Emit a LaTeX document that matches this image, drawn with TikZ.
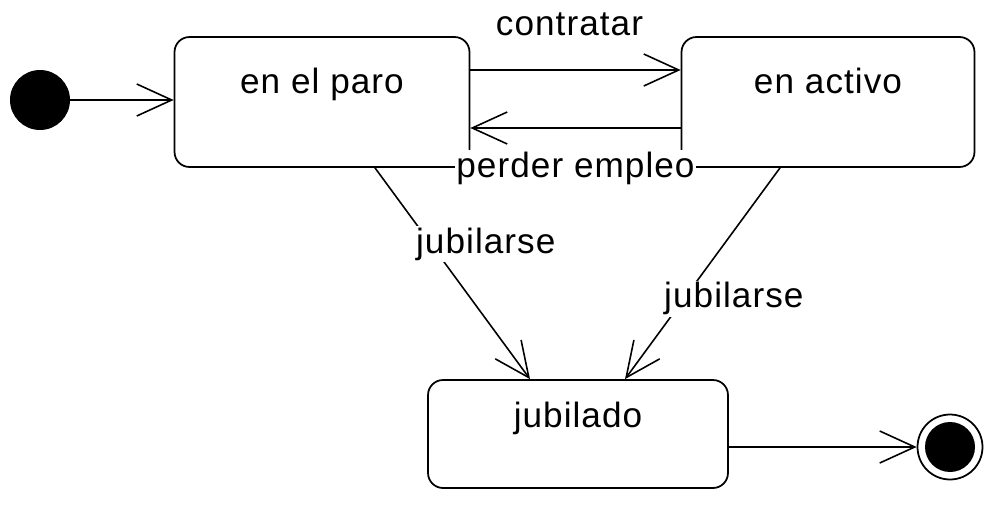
\documentclass[tikz,border=0pt]{standalone}
\usepackage{fontspec}
\setmainfont{Liberation Sans}[LetterSpace=3]
\usepackage{tikz}
\usetikzlibrary{positioning,%
  arrows.meta,%
  calc
}

\begin{document}
\begin{tikzpicture}
            [
                x=0.02cm, y=-0.02cm,
                every node/.style={font=\fontsize{20}{24}\selectfont},
                state/.style={draw, rounded corners=0.3cm, line width=1pt,
                    inner sep=0pt, fill=white},
                trans/.style={->, line width=0.9pt},
                lbl/.style={fill=white, inner sep=1pt},
                >={Straight Barb[length=0.7cm,width=0.64cm]}
            ]
            
            \useasboundingbox (0,0) rectangle (994,514);
            
            \node[circle,fill=black,minimum size=1.2cm,inner sep=0pt] (init) at (40,100) {};
            \node[state,minimum width=5.9cm,text height=1.12cm,text depth=1.48cm]
                (paro) at (322,102) {en el paro};
            \node[state,minimum width=5.86cm,text height=1.12cm,text depth=1.48cm]
                (activo) at (828,102) {en activo};
            \node[state,minimum width=6cm,text height=0.94cm,text depth=1.22cm]
                (jubilado) at (578,434) {jubilado};
            \node[circle,draw,line width=1pt,minimum size=1.3cm,inner sep=0pt]
                (final) at (950,447) {};
            \fill (final.center) circle (0.5cm);
            
            \draw[trans] (init) -- (init -| paro.west);
            \draw[trans] ([yshift=0.64cm]paro.east) --
                node[lbl,above=0.64cm,xshift=-0.12cm] (lcontratar) {contratar}
                ([yshift=0.64cm]activo.west);
            \draw[trans] ([yshift=-0.52cm]activo.west) --
                node[lbl,below=0.43cm] (lperder) {perder empleo}
                ([yshift=-0.52cm]paro.east);
            \draw[trans] ([xshift=1.06cm]paro.south) --
                node[lbl,pos=0.36,xshift=1.1cm] (ljubparo) {jubilarse}
                ([xshift=-0.96cm]jubilado.north);
            \draw[trans] ([xshift=-0.96cm]activo.south) --
                node[lbl,pos=0.62,xshift=1cm] (ljubactivo) {jubilarse}
                ([xshift=0.94cm]jubilado.north);
            \draw[trans] (final -| jubilado.east) -- (final);
        \end{tikzpicture}
\end{document}
